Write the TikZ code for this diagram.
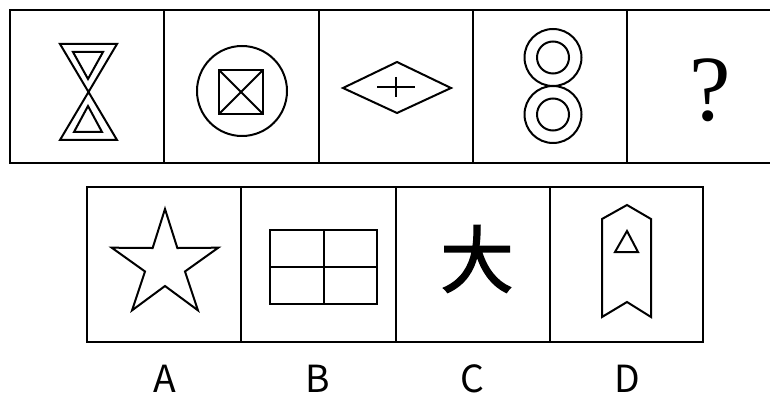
\documentclass[tikz,border=0pt]{standalone}
\usepackage{fontspec}
\newfontfamily\cjkfont{Noto Sans CJK SC}
\newfontfamily\dafont{Noto Sans CJK SC}[FakeBold=1.8]
\newfontfamily\qfont{Liberation Serif}

\tikzset{every picture/.style={line width=1.5pt}}
\tikzset{frame/.style={line width=1.8pt}}

\begin{document}
\begin{tikzpicture}[x=0.75pt,y=0.75pt,yscale=-1,xscale=1]
\useasboundingbox (0,0) rectangle (770,395);

% question row
\draw [frame] (10,10) rectangle (781,163) ;
\draw [frame] (164,10) -- (164,163) ;
\draw [frame] (319,10) -- (319,163) ;
\draw [frame] (473,10) -- (473,163) ;
\draw [frame] (627,10) -- (627,163) ;

\draw    (60,44) -- (117,44) -- (60,140) -- (117,140) -- cycle ;
\draw    (73,52) -- (103,52) -- (88,79) -- cycle ;
\draw    (88,106) -- (102,132) -- (74,132) -- cycle ;

\draw    (242,91) circle (45) ;
\draw    (219,70) rectangle (263,114) ;
\draw    (219,70) -- (263,114) ;
\draw    (263,70) -- (219,114) ;

\draw    (343,88) -- (397,62) -- (451,88) -- (397,113) -- cycle ;
\draw    (377,87) -- (415,87) ;
\draw    (396,77) -- (396,97) ;

\draw    (553,57.5) circle (28.5) ;
\draw    (553,57.5) circle (16) ;
\draw    (553,114.5) circle (28.5) ;
\draw    (553,114.5) circle (16) ;

\draw (710,90) node [inner sep=0pt] (qmark) {\qfont\fontsize{70}{70}\selectfont ?};

% answer row
\draw [frame] (87,187) rectangle (703,342) ;
\draw [frame] (241,187) -- (241,342) ;
\draw [frame] (396,187) -- (396,342) ;
\draw [frame] (550,187) -- (550,342) ;

\begin{scope}[shift={(165,265)}]
\draw    (-90:56) \foreach \a in {0,72,...,288} { -- (\a-54:21) -- (\a-18:56) } -- cycle ;
\end{scope}

\draw    (270,230) rectangle (377,304) ;
\draw    (324,230) -- (324,304) ;
\draw    (270,267) -- (377,267) ;

\draw (477,259) node [inner sep=0pt] (dachar) {\dafont\fontsize{55}{55}\selectfont 大};

\draw    (602,219) -- (627,205) -- (651,219) -- (651,317) -- (627,302) -- (602,317) -- cycle ;
\draw    (627,231) -- (638,252) -- (615,252) -- cycle ;

\draw (165,392) node [anchor=base][inner sep=0pt] (labA) {\cjkfont\fontsize{28}{28}\selectfont A};
\draw (318,392) node [anchor=base][inner sep=0pt] (labB) {\cjkfont\fontsize{28}{28}\selectfont B};
\draw (472,392) node [anchor=base][inner sep=0pt] (labC) {\cjkfont\fontsize{28}{28}\selectfont C};
\draw (627,392) node [anchor=base][inner sep=0pt] (labD) {\cjkfont\fontsize{28}{28}\selectfont D};

\end{tikzpicture}
\end{document}
